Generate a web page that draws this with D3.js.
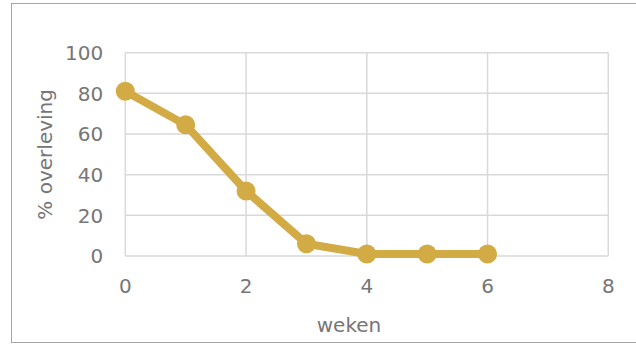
<!DOCTYPE html>
<html>
<head>
<meta charset="utf-8">
<script src="https://cdn.jsdelivr.net/npm/d3@7"></script>
<style>
  body { margin: 0; background: #fff; }
  text { font-family: "DejaVu Sans", Verdana, sans-serif; fill: #767676; }
</style>
</head>
<body>
<div id="chart"></div>
<script>
// data
const weeks = [0, 1, 2, 3, 4, 5, 6];
const survival = [81, 64.5, 32, 6, 1, 1, 1];
const xTicks = [0, 2, 4, 6, 8];
const yTicks = [0, 20, 40, 60, 80, 100];

const W = 636, H = 344;
const plot = { left: 125.3, right: 608.3, top: 52.7, bottom: 256 };

const svg = d3.select("#chart")
    .append("svg")
    .attr("width", W)
    .attr("height", H);

// chart frame
svg.append("rect")
    .attr("x", 11.5)
    .attr("y", 3.5)
    .attr("width", W)
    .attr("height", 339)
    .attr("fill", "none")
    .attr("stroke", "#a6a6a6")
    .attr("stroke-width", 1);

const x = d3.scaleLinear().domain([0, 8]).range([plot.left, plot.right]);
const y = d3.scaleLinear().domain([0, 100]).range([plot.bottom, plot.top]);

// gridlines
svg.append("g")
    .selectAll("line")
    .data(yTicks)
    .enter()
    .append("line")
    .attr("x1", plot.left)
    .attr("x2", plot.right)
    .attr("y1", d => y(d))
    .attr("y2", d => y(d))
    .attr("stroke", "#d9d9d9")
    .attr("stroke-width", 1.5);

svg.append("g")
    .selectAll("line")
    .data(xTicks)
    .enter()
    .append("line")
    .attr("x1", d => x(d))
    .attr("x2", d => x(d))
    .attr("y1", plot.top)
    .attr("y2", plot.bottom)
    .attr("stroke", "#d9d9d9")
    .attr("stroke-width", 1.5);

// tick labels
svg.append("g")
    .selectAll("text")
    .data(yTicks)
    .enter()
    .append("text")
    .attr("x", plot.left - 22)
    .attr("y", d => y(d))
    .attr("dy", "0.36em")
    .attr("text-anchor", "end")
    .style("font-size", "20px")
    .text(d => d);

svg.append("g")
    .selectAll("text")
    .data(xTicks)
    .enter()
    .append("text")
    .attr("x", d => x(d))
    .attr("y", 293)
    .attr("text-anchor", "middle")
    .style("font-size", "20px")
    .text(d => d);

// axis titles
svg.append("text")
    .attr("x", 349)
    .attr("y", 332)
    .attr("text-anchor", "middle")
    .style("font-size", "20px")
    .text("weken");

svg.append("text")
    .attr("transform", "rotate(-90)")
    .attr("x", -(plot.top + plot.bottom) / 2)
    .attr("y", 52)
    .attr("text-anchor", "middle")
    .style("font-size", "20px")
    .text("% overleving");

// series
const pts = weeks.map((w, i) => ({ w: w, v: survival[i] }));
const color = "#d3ab45";

svg.append("path")
    .datum(pts)
    .attr("fill", "none")
    .attr("stroke", color)
    .attr("stroke-width", 8)
    .attr("stroke-linejoin", "round")
    .attr("d", d3.line().x(d => x(d.w)).y(d => y(d.v)));

svg.selectAll(".dot")
    .data(pts)
    .enter()
    .append("circle")
    .attr("class", "dot")
    .attr("cx", d => x(d.w))
    .attr("cy", d => y(d.v))
    .attr("r", 9.5)
    .attr("fill", color);
</script>
</body>
</html>
